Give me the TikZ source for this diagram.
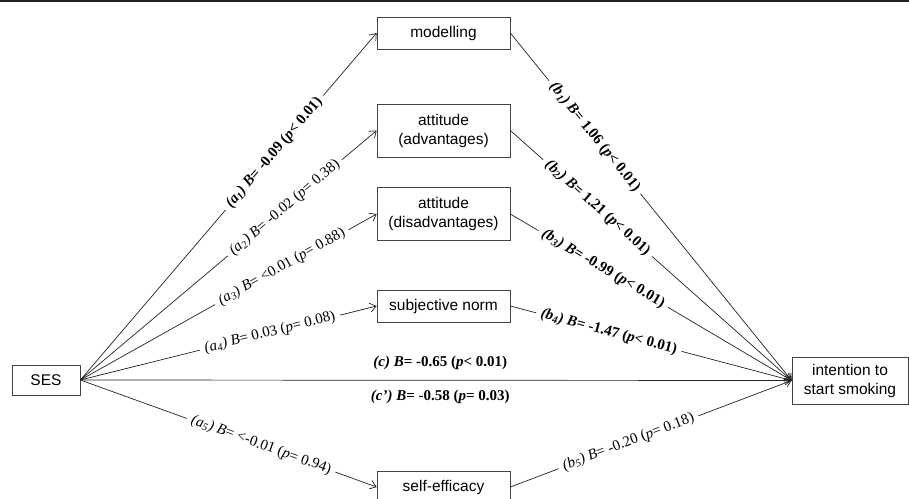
\documentclass[tikz,border=0pt]{standalone}
\usepackage{fontspec}
\setmainfont{Liberation Serif}
\setsansfont{Liberation Sans}
\usetikzlibrary{arrows.meta}
\definecolor{ink}{HTML}{222222}
\definecolor{bar}{HTML}{231F20}
\tikzset{
  box/.style={draw=ink!85, line width=0.7pt, fill=white, align=center,
    font=\sffamily\fontsize{15.5}{19}\selectfont, inner sep=0pt, minimum width=133pt},
  conn/.style={draw=ink, line width=0.7pt, -{Straight Barb[length=6pt,width=9pt]}},
  lab/.style={sloped, fill=white, inner xsep=5pt, inner ysep=0pt,
    font=\fontsize{15}{17}\selectfont},
  clab/.style={inner sep=0pt, font=\bfseries\fontsize{15}{17}\selectfont},
}
\newcommand\labtext[5]{\textit{(#1\textsubscript{#2})} \textit{B}= #3 (\textit{p}#4 #5)}
\newcommand\labbold[5]{{\bfseries\labtext{#1}{#2}{#3}{#4}{#5}}}
\begin{document}
\begin{tikzpicture}[x=1pt,y=-1pt]
\useasboundingbox (0,0) rectangle (909,498);
\clip (0,0) rectangle (909,498);
\fill[bar] (0,0) rectangle (909,2);

\node[box, minimum height=32pt] (mod) at (443.5,33) {modelling};
\node[box, minimum height=53pt] (adv) at (443.5,130.5) {attitude\\(advantages)};
\node[box, minimum height=53pt] (dis) at (443.5,214) {attitude\\(disadvantages)};
\node[box, minimum height=32pt] (sub) at (443.5,306) {subjective norm};
\node[box, minimum height=32pt] (eff) at (443.5,487) {self-efficacy};
\node[box, minimum height=30pt, minimum width=68pt] (ses) at (46,380) {SES};
\node[box, minimum height=47pt, minimum width=116pt] (int) at (850,380.5) {intention to\\start smoking};

% connectors
\draw[conn] (ses.east) -- (mod.west);
\draw[conn] (ses.east) -- (adv.west);
\draw[conn] (ses.east) -- (dis.west);
\draw[conn] (ses.east) -- (sub.west);
\draw[conn] (ses.east) -- (eff.west);
\draw[conn] (ses.east) -- (int.west);
\draw[conn] (mod.east) -- (int.west);
\draw[conn] (adv.east) -- (int.west);
\draw[conn] (dis.east) -- (int.west);
\draw[conn] (sub.east) -- (int.west);
\draw[conn] (eff.east) -- (int.west);

% labels
\path (ses.east) -- (mod.west) node[lab, pos=0.655] {\labbold{a}{1}{-0.09}{<}{0.01}};
\path (ses.east) -- (adv.west) node[lab, pos=0.69] {\labtext{a}{2}{-0.02}{=}{0.38}};
\path (ses.east) -- (dis.west) node[lab, pos=0.68] {\labtext{a}{3}{<0.01}{=}{0.88}};
\path (ses.east) -- (sub.west) node[lab, pos=0.64] {\labtext{a}{4}{0.03}{=}{0.08}};
\path (ses.east) -- (eff.west) node[lab, pos=0.61] {\labtext{a}{5}{<-0.01}{=}{0.94}};
\path (mod.east) -- (int.west) node[lab, pos=0.30] {\labbold{b}{1}{1.06}{<}{0.01}};
\path (adv.east) -- (int.west) node[lab, pos=0.31] {\labbold{b}{2}{1.21}{<}{0.01}};
\path (dis.east) -- (int.west) node[lab, pos=0.33] {\labbold{b}{3}{-0.99}{<}{0.01}};
\path (sub.east) -- (int.west) node[lab, pos=0.35] {\labbold{b}{4}{-1.47}{<}{0.01}};
\path (eff.east) -- (int.west) node[lab, pos=0.42] {\labtext{b}{5}{-0.20}{=}{0.18}};
\path (ses.east) -- (int.west)
  node[clab, pos=0.506, above=10pt] {\textit{(c)} \textit{B}= -0.65 (\textit{p}< 0.01)}
  node[clab, pos=0.506, below=10pt] {\textit{(c’)} \textit{B}= -0.58 (\textit{p}= 0.03)};
\end{tikzpicture}
\end{document}
